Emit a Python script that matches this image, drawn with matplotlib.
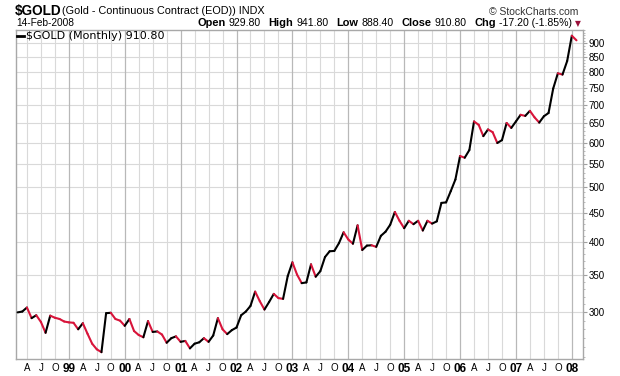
import numpy as np
import matplotlib
matplotlib.use("Agg")
import matplotlib.pyplot as plt
from matplotlib.collections import LineCollection
from matplotlib.ticker import FixedLocator, NullFormatter

plt.rcParams['font.family'] = ['Liberation Sans', 'DejaVu Sans']

# ---- data: monthly close, Feb 1998 .. Feb 2008 ----
start_year = 1998
start_month = 2
closes = [
    # 1998 Feb-Dec
    300, 301, 306, 293, 296.5, 288.5, 276, 296, 293.5, 292, 289,
    # 1999
    288, 287.5, 280, 287, 275, 264, 258, 255, 299, 299.5, 292, 290,
    # 2000
    284, 292, 278, 273.5, 271, 289.5, 277, 277.5, 274, 265, 270, 272,
    # 2001
    266, 267, 259, 264, 265.5, 270, 266, 273, 293, 280, 274.5, 279,
    # 2002
    282, 296.5, 301, 308, 326.5, 314, 303.5, 313, 323.5, 318, 317, 348,
    # 2003
    368, 350, 338, 339, 365, 347, 355, 376, 385, 385.5, 398, 416,
    # 2004
    404, 397, 428, 387, 394, 394.5, 392, 410, 417, 429, 452, 436,
    # 2005
    423, 436, 430, 436, 419, 436, 431, 435, 469, 470, 492, 516,
    # 2006
    568, 564, 582, 654, 645, 616, 633, 626, 599, 606, 650, 637,
    # 2007
    654, 672, 669, 683, 665, 651, 668, 677, 748, 796, 792, 837,
    # 2008
    928, 910.8,
]
y_ticks = [300, 350, 400, 450, 500, 550, 600, 650, 700, 750, 800, 850, 900]
quarter_letters = {4: "A", 7: "J", 10: "O"}

title_sym = "$GOLD"
title_desc = "(Gold - Continuous Contract (EOD)) INDX"
date_str = "14-Feb-2008"
legend_str = "$GOLD (Monthly) 910.80"
ohlc_labels = ["Open", "High", "Low", "Close", "Chg"]
ohlc_values = ["929.80", "941.80", "888.40", "910.80", "-17.20 (-1.85%)"]

# ---- build ----
vals = np.array(closes, dtype=float)
n = len(vals)
xs = np.arange(n)
months = [((start_month - 1 + i) % 12) + 1 for i in range(n)]
years = [start_year + (start_month - 1 + i) // 12 for i in range(n)]

W, H = 620, 376
fig = plt.figure(figsize=(W / 100, H / 100), dpi=100)
ax = fig.add_axes([16 / W, 17 / H, 567 / W, 329 / H])
ax.set_yscale('log')
ax.set_ylim(248, 950)
ax.set_xlim(-0.35, 121.4)

red = '#d8143a'
segs = [[(xs[i], vals[i]), (xs[i + 1], vals[i + 1])] for i in range(n - 1)]
cols = ['black' if vals[i + 1] >= vals[i] else red for i in range(n - 1)]
lc = LineCollection(segs, colors=cols, linewidths=1.5, capstyle='round', joinstyle='round', zorder=3)
ax.add_collection(lc)

# grid
for yv in y_ticks:
    ax.axhline(yv, color='#d9d9d9', lw=0.8, zorder=1)
tick_pos, tick_lab, tick_bold = [], [], []
for i in range(n):
    m = months[i]
    if m == 1:
        ax.axvline(xs[i], color='#b8b8b8', lw=0.9, zorder=1)
        tick_pos.append(xs[i]); tick_lab.append(f"{years[i] % 100:02d}"); tick_bold.append(True)
    elif m in quarter_letters:
        ax.axvline(xs[i], color='#d9d9d9', lw=0.8, zorder=1)
        tick_pos.append(xs[i]); tick_lab.append(quarter_letters[m]); tick_bold.append(False)

ax.set_xticks(tick_pos)
ax.set_xticklabels(tick_lab)
for t, b in zip(ax.get_xticklabels(), tick_bold):
    if b:
        t.set_fontweight('bold')
        t.set_fontsize(8.5)
    else:
        t.set_fontsize(7)
ax.tick_params(axis='x', length=0, pad=3, colors='black')

ax.yaxis.tick_right()
ax.yaxis.set_major_locator(FixedLocator(y_ticks))
ax.set_yticklabels([str(v) for v in y_ticks])
ax.yaxis.set_minor_locator(FixedLocator(list(range(250, 951, 10))))
ax.yaxis.set_minor_formatter(NullFormatter())
ax.tick_params(axis='y', which='major', length=3, color='#a0a0a0', labelsize=7, pad=1)
ax.tick_params(axis='y', which='minor', length=1.5, color='#b0b0b0')

for s in ax.spines.values():
    s.set_color('#a8a8a8')
    s.set_linewidth(1.0)

def fx(x):
    return x / W
def fy(y):
    return 1 - y / H

renderer = fig.canvas.get_renderer()

# header line 1
fig.text(fx(15), fy(14.5), title_sym, fontsize=9.8, fontweight='bold', va='baseline')
fig.text(fx(62), fy(14.5), title_desc, fontsize=7.8, va='baseline')
fig.text(fx(578), fy(15), "\u00a9 StockCharts.com", fontsize=7.5, va='baseline', ha='right', color='#333333')

# header line 2
fig.text(fx(16), fy(26.5), date_str, fontsize=7.3, va='baseline')
xcur = 197
for lab, val in zip(ohlc_labels, ohlc_values):
    tb = fig.text(fx(xcur), fy(26.5), lab, fontsize=7.9, fontweight='bold', va='baseline')
    bb = tb.get_window_extent(renderer)
    xcur = bb.x1 + 3
    tv = fig.text(fx(xcur), fy(26.5), val, fontsize=7.6, va='baseline')
    bv = tv.get_window_extent(renderer)
    xcur = bv.x1 + 8
fig.text(fx(577.5), fy(23.5), "\u25BC", fontsize=5.5, ha='center', va='center', color='#99103a', family='DejaVu Sans')

# legend
fig.add_artist(plt.Line2D([fx(17), fx(24)], [fy(35.5), fy(35.5)], color='black', lw=2))
fig.text(fx(26), fy(39), legend_str, fontsize=8, va='baseline', family='DejaVu Sans')

fig.savefig('out.png', dpi=100, facecolor='white')
